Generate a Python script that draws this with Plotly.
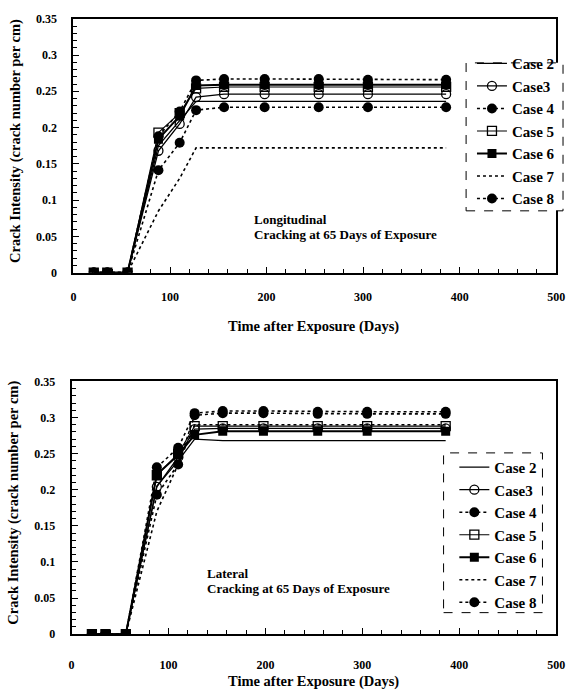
import plotly.graph_objects as go

days = [21, 35, 56, 88, 110, 127, 156, 198, 254, 305, 386]
case_names = ["Case 2", "Case3", "Case 4", "Case 5", "Case 6", "Case 7", "Case 8"]

long_case2 = [0, 0, 0, 0.175, 0.210, 0.236, 0.236, 0.236, 0.236, 0.236, 0.236]
long_case3 = [0, 0, 0, 0.168, 0.205, 0.242, 0.246, 0.246, 0.246, 0.246, 0.246]
long_case4 = [0, 0, 0, 0.141, 0.179, 0.224, 0.228, 0.228, 0.228, 0.228, 0.228]
long_case5 = [0, 0, 0, 0.193, 0.220, 0.254, 0.256, 0.256, 0.256, 0.256, 0.256]
long_case6 = [0, 0, 0, 0.184, 0.216, 0.258, 0.259, 0.259, 0.259, 0.259, 0.259]
long_case7 = [0, 0, 0, 0.085, 0.130, 0.172, 0.172, 0.172, 0.172, 0.172, 0.172]
long_case8 = [0, 0, 0, 0.188, 0.222, 0.265, 0.267, 0.267, 0.267, 0.266, 0.266]

lat_case2 = [0, 0, 0, 0.205, 0.240, 0.270, 0.268, 0.268, 0.268, 0.268, 0.268]
lat_case3 = [0, 0, 0, 0.204, 0.245, 0.284, 0.285, 0.285, 0.285, 0.285, 0.285]
lat_case4 = [0, 0, 0, 0.193, 0.235, 0.303, 0.306, 0.306, 0.305, 0.305, 0.305]
lat_case5 = [0, 0, 0, 0.220, 0.250, 0.288, 0.288, 0.288, 0.288, 0.288, 0.288]
lat_case6 = [0, 0, 0, 0.221, 0.248, 0.276, 0.281, 0.281, 0.281, 0.281, 0.281]
lat_case7 = [0, 0, 0, 0.170, 0.235, 0.290, 0.290, 0.290, 0.290, 0.290, 0.290]
lat_case8 = [0, 0, 0, 0.231, 0.258, 0.306, 0.309, 0.309, 0.308, 0.308, 0.308]

long_series = [long_case2, long_case3, long_case4, long_case5, long_case6, long_case7, long_case8]
lat_series = [lat_case2, lat_case3, lat_case4, lat_case5, lat_case6, lat_case7, lat_case8]

styles = [
    dict(mode="lines", line=dict(color="black", width=1.3, dash="solid"), marker=None),
    dict(mode="lines+markers", line=dict(color="black", width=1.3, dash="solid"),
         marker=dict(symbol="circle-open", size=9, color="black", line=dict(width=1.3))),
    dict(mode="lines+markers", line=dict(color="black", width=1.6, dash="dot"),
         marker=dict(symbol="circle", size=10, color="black")),
    dict(mode="lines+markers", line=dict(color="black", width=1.1, dash="solid"),
         marker=dict(symbol="square-open", size=9, color="black", line=dict(width=1.3))),
    dict(mode="lines+markers", line=dict(color="black", width=2, dash="solid"),
         marker=dict(symbol="square", size=9, color="black")),
    dict(mode="lines", line=dict(color="black", width=1.6, dash="dot"), marker=None),
    dict(mode="lines+markers", line=dict(color="black", width=1.6, dash="dot"),
         marker=dict(symbol="circle", size=10, color="black")),
]

FONT = "Liberation Serif"
fig = go.Figure()

for name, ys, st in zip(case_names, long_series, styles):
    kw = dict(x=days, y=ys, name=name, mode=st["mode"], line=st["line"],
              xaxis="x", yaxis="y", legend="legend")
    if st["marker"]:
        kw["marker"] = st["marker"]
    fig.add_trace(go.Scatter(**kw))

for name, ys, st in zip(case_names, lat_series, styles):
    kw = dict(x=days, y=ys, name=name, mode=st["mode"], line=st["line"],
              xaxis="x2", yaxis="y2", legend="legend2")
    if st["marker"]:
        kw["marker"] = st["marker"]
    fig.add_trace(go.Scatter(**kw))

W, H = 573, 700
def px(x):
    return x / W
def py(y):
    return 1 - y / H

tickfont = dict(family=FONT, size=12, color="black", weight="bold")

def xax(domain, anchor, standoff):
    return dict(domain=domain, anchor=anchor, range=[0, 500], dtick=100,
                showline=True, linecolor="black", linewidth=2, mirror=True,
                ticks="inside", ticklen=6, tickwidth=1.2, tickcolor="black",
                minor=dict(ticks="inside", dtick=20, ticklen=4, tickcolor="black"),
                showgrid=False, zeroline=False, tickfont=tickfont,
                ticklabelstandoff=standoff, ticklabeloverflow="allow", fixedrange=True)

def yax(domain, anchor):
    return dict(domain=domain, anchor=anchor, range=[0, 0.35], dtick=0.05,
                tickvals=[0, 0.05, 0.1, 0.15, 0.2, 0.25, 0.3, 0.35],
                ticktext=["0", "0.05", "0.1", "0.15", "0.2", "0.25", "0.3", "0.35"],
                showline=True, linecolor="black", linewidth=2, mirror=True,
                ticks="inside", ticklen=6, tickwidth=1.2, tickcolor="black",
                minor=dict(ticks="inside", dtick=0.01, ticklen=4, tickcolor="black"),
                showgrid=False, zeroline=False, tickfont=tickfont,
                ticklabelstandoff=12, fixedrange=True)

legfont = dict(family=FONT, size=15, color="black", weight="bold")

fig.update_layout(
    width=W, height=H,
    margin=dict(l=0, r=0, t=0, b=0),
    paper_bgcolor="white", plot_bgcolor="white",
    font=dict(family=FONT, color="black"),
    xaxis=xax([px(72), px(565)], "y", 12),
    yaxis=yax([py(271), py(12)], "x"),
    xaxis2=xax([px(70), px(565)], "y2", 18),
    yaxis2=yax([py(640), py(382)], "x2"),
    legend=dict(x=px(479), y=py(41), xanchor="left", yanchor="top",
                bgcolor="rgba(0,0,0,0)", font=legfont, itemwidth=30),
    legend2=dict(x=px(461), y=py(453), xanchor="left", yanchor="top",
                 bgcolor="rgba(0,0,0,0)", font=legfont, itemwidth=30),
    showlegend=True,
)

# dashed legend boxes
fig.add_shape(type="rect", xref="paper", yref="paper",
              x0=px(473), x1=px(572), y0=py(208), y1=py(57),
              line=dict(color="black", width=1, dash="dash"),
              fillcolor="white", layer="above")
fig.add_shape(type="rect", xref="paper", yref="paper",
              x0=px(450), x1=px(551), y0=py(618), y1=py(455),
              line=dict(color="black", width=1, dash="dash"),
              fillcolor="white", layer="above")

afont = dict(family=FONT, size=13, color="black", weight="bold")
annots = [
    dict(text="Longitudinal", x=185, y=0.073, xref="x", yref="y"),
    dict(text="Cracking at 65 Days of Exposure", x=185, y=0.052, xref="x", yref="y"),
    dict(text="Lateral", x=138, y=0.084, xref="x2", yref="y2"),
    dict(text="Cracking at 65 Days of Exposure", x=138, y=0.063, xref="x2", yref="y2"),
]
for a in annots:
    fig.add_annotation(**a, showarrow=False, xanchor="left", yanchor="middle", font=afont)

# axis titles
tfont = dict(family=FONT, size=14.5, color="black", weight="bold")
fig.add_annotation(text="Time after Exposure (Days)", xref="paper", yref="paper",
                   x=px(317), y=py(326), showarrow=False, font=tfont,
                   xanchor="center", yanchor="middle")
fig.add_annotation(text="Time after Exposure (Days)", xref="paper", yref="paper",
                   x=px(317), y=py(688), showarrow=False, font=tfont,
                   xanchor="center", yanchor="middle")
fig.add_annotation(text="Crack Intensity (crack number per cm)", xref="paper", yref="paper",
                   x=px(13), y=py(137), showarrow=False, font=tfont, textangle=-90,
                   xanchor="center", yanchor="middle")
fig.add_annotation(text="Crack Intensity (crack number per cm)", xref="paper", yref="paper",
                   x=px(11), y=py(506), showarrow=False, font=tfont, textangle=-90,
                   xanchor="center", yanchor="middle")

fig.write_html("out.html")
